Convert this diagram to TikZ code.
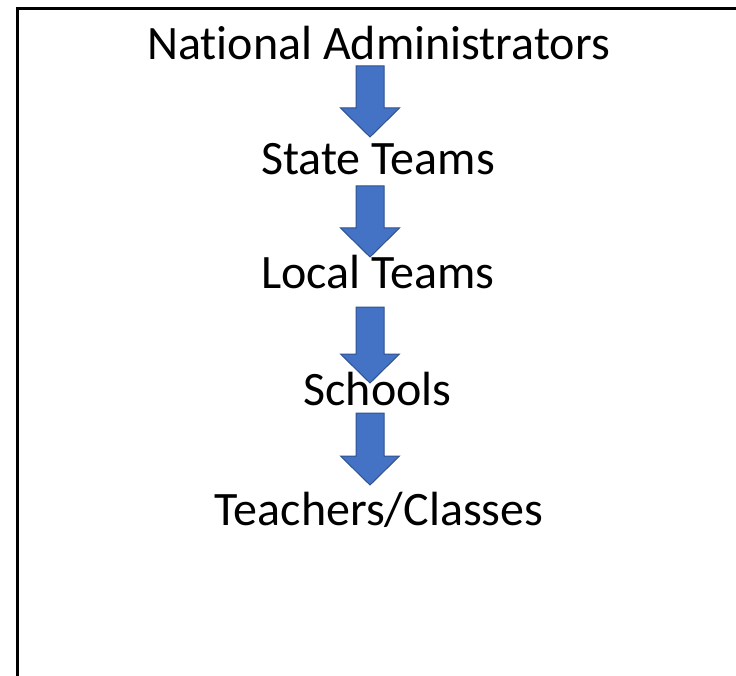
\documentclass[tikz,border=0pt]{standalone}
\usepackage{fontspec}
\setmainfont[Ligatures=NoCommon]{Carlito}
\usepackage{tikz}
\definecolor{arrfill}{HTML}{4472C4}
\definecolor{arrline}{HTML}{2F528F}
\newcommand{\shafts}{14}
\newcommand{\heads}{29.5}
% block arrow: x, top of shaft, tip
\newcommand{\blockarr}[3]{%
  \draw[blockarrow] (#1-\shafts,#2) -- (#1+\shafts,#2) -- (#1+\shafts,#3+29)
    -- (#1+\heads,#3+29) -- (#1,#3) -- (#1-\heads,#3+29)
    -- (#1-\shafts,#3+29) -- cycle;}

\begin{document}
\begin{tikzpicture}[x=1pt,y=1pt,
    level/.style={anchor=base, inner sep=0pt, font=\fontsize{48}{58}\selectfont},
    blockarrow/.style={fill=arrfill, draw=arrline, line width=1pt, line join=miter}]
                %\draw[help lines] (0,0) grid (736,-676);
                \useasboundingbox (0,0) rectangle (736,-676);
                \draw[line width=3pt] (17.5,-676) -- (17.5,-9) -- (736,-9);
                \node[level] (nat) at (378.5,-60) {National Administrators};
                \node[level] (state) at (378,-175) {State Teams};
                \node[level] (local) at (378,-289) {Local Teams};
                \node[level] (school) at (377.5,-405) {Schools};
                \node[level] (teach) at (379,-525) {Teachers/Classes};
                \blockarr{370}{-66}{-137}
                \blockarr{370}{-186}{-257}
                \blockarr{370}{-307}{-383}
                \blockarr{370}{-413}{-485}
        \end{tikzpicture}
\end{document}
